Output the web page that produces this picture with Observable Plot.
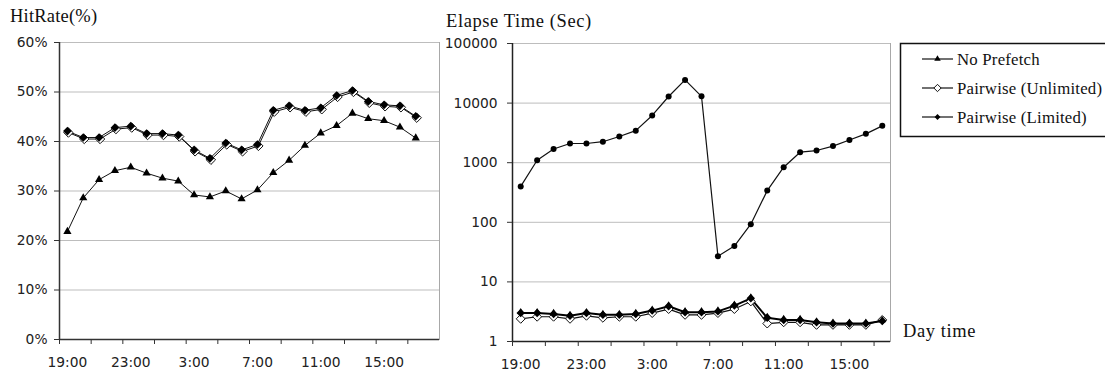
<!DOCTYPE html>
<html>
<head>
<meta charset="utf-8">
<script src="https://cdn.jsdelivr.net/npm/d3@7"></script>
<script src="https://cdn.jsdelivr.net/npm/@observablehq/plot@0.6"></script>
<style>
  html, body { margin: 0; padding: 0; background: #fff; }
  #wrap { position: relative; width: 1105px; height: 376px; overflow: hidden; background: #fff; }
  #wrap > svg, #wrap > figure { position: absolute; margin: 0; }
</style>
</head>
<body>
<div id="wrap"></div>
<script>
// ---- data ----
const categories = ["19:00","20:00","21:00","22:00","23:00","0:00","1:00","2:00","3:00","4:00","5:00","6:00",
                    "7:00","8:00","9:00","10:00","11:00","12:00","13:00","14:00","15:00","16:00","17:00"];
const xTickLabels = ["19:00","23:00","3:00","7:00","11:00","15:00"];
const seriesNames = ["No Prefetch","Pairwise (Unlimited)","Pairwise (Limited)"];

// Hit rate (%)
const hitNoPrefetch = [21.8,28.6,32.3,34.1,34.8,33.6,32.6,32.0,29.2,28.8,30.0,28.4,30.2,33.7,36.2,39.2,41.7,43.2,45.7,44.6,44.2,42.9,40.7];
const hitUnlimited  = [41.8,40.5,40.5,42.5,42.8,41.3,41.3,41.0,38.0,36.3,39.4,38.0,39.1,46.0,46.9,46.0,46.5,49.0,50.0,47.8,47.1,46.9,44.8];
const hitLimited    = [42.1,40.8,40.8,42.8,43.1,41.6,41.6,41.3,38.3,36.6,39.7,38.3,39.4,46.3,47.2,46.3,46.8,49.3,50.3,48.1,47.4,47.2,45.1];
const hitTicks = [0,10,20,30,40,50,60];

// Elapse time (sec)
const timeNoPrefetch = [3.0,3.0,2.9,2.7,3.0,2.8,2.8,2.9,3.3,3.9,3.1,3.1,3.2,4.0,5.3,2.5,2.3,2.3,2.1,2.0,2.0,2.0,2.2];
const timeUnlimited  = [2.4,2.6,2.6,2.4,2.7,2.5,2.6,2.6,3.0,3.5,2.8,2.8,3.0,3.5,4.7,2.0,2.1,2.1,1.9,1.9,1.9,1.9,2.3];
const timeLimited    = [400,1100,1700,2100,2100,2250,2750,3450,6200,12900,24500,13000,27,40,93,340,840,1500,1600,1900,2400,3050,4150];
const timeTicks = [1,10,100,1000,10000,100000];

// ---- build ----
const rows = (arr) => arr.map((v, i) => ({i, v}));
const labelIdx = xTickLabels.map(l => categories.indexOf(l));
const boundaryTicks = d3.range(-0.5, 22, 2);
const style = {fontFamily: "'DejaVu Sans', sans-serif", fontSize: "13.8px", color: "#222", background: "transparent", overflow: "visible"};
const wrap = document.getElementById("wrap");

function commonX() {
  return [
    Plot.axisX({ticks: labelIdx, tickSize: 0, tickPadding: 18, tickFormat: i => categories[i], label: null}),
    Plot.axisX({ticks: boundaryTicks, tickSize: 5, tickFormat: () => "", label: null, stroke: "#333"})
  ];
}

const left = Plot.plot({
  width: 445, height: 376,
  marginLeft: 59, marginRight: 6, marginTop: 42, marginBottom: 37,
  style,
  x: {type: "linear", domain: [-0.5, 23.5], label: null},
  y: {domain: [0, 60], label: null},
  marks: [
    Plot.frame({stroke: "#a8a8a8"}),
    Plot.gridY({ticks: hitTicks.slice(1), stroke: "#bdbdbd", strokeOpacity: 1}),
    Plot.ruleX([-0.5], {stroke: "#333", strokeWidth: 1.5}),
    Plot.ruleY([0], {stroke: "#333", strokeWidth: 1.5}),
    Plot.axisY({ticks: hitTicks, tickFormat: d => `${d}%`, tickSize: 5, tickPadding: 7, label: null, stroke: "#333"}),
    ...commonX(),
    Plot.line(rows(hitNoPrefetch), {x: "i", y: "v", stroke: "#111", strokeWidth: 1}),
    Plot.line(rows(hitUnlimited), {x: "i", y: "v", stroke: "#111", strokeWidth: 1, dx: 1}),
    Plot.line(rows(hitLimited), {x: "i", y: "v", stroke: "#111", strokeWidth: 1}),
    Plot.dot(rows(hitNoPrefetch), {x: "i", y: "v", symbol: "triangle2", r: 3.9, fill: "#000", stroke: "none"}),
    Plot.dot(rows(hitUnlimited), {x: "i", y: "v", symbol: "diamond2", r: 4.2, fill: "#fff", stroke: "#111", strokeWidth: 1, dx: 1}),
    Plot.dot(rows(hitLimited), {x: "i", y: "v", symbol: "diamond2", r: 3.9, fill: "#000", stroke: "none"})
  ]
});
left.style.left = "0px"; left.style.top = "0px";
wrap.appendChild(left);

const right = Plot.plot({
  width: 450, height: 376,
  marginLeft: 67, marginRight: 5, marginTop: 43, marginBottom: 35,
  style,
  x: {type: "linear", domain: [-0.5, 22.5], label: null},
  y: {type: "log", domain: [1, 100000], label: null},
  marks: [
    Plot.frame({stroke: "#a8a8a8"}),
    Plot.gridY({ticks: timeTicks.slice(1), stroke: "#bdbdbd", strokeOpacity: 1}),
    Plot.ruleX([-0.5], {stroke: "#222", strokeWidth: 1.5}),
    Plot.ruleY([1], {stroke: "#222", strokeWidth: 1.5}),
    Plot.axisY({ticks: timeTicks, tickFormat: d3.format("d"), tickSize: 5, tickPadding: 10, label: null, stroke: "#333"}),
    ...commonX(),
    Plot.line(rows(timeUnlimited), {x: "i", y: "v", stroke: "#111", strokeWidth: 1.2}),
    Plot.line(rows(timeNoPrefetch), {x: "i", y: "v", stroke: "#000", strokeWidth: 2}),
    Plot.line(rows(timeLimited), {x: "i", y: "v", stroke: "#111", strokeWidth: 1.2}),
    Plot.dot(rows(timeUnlimited), {x: "i", y: "v", symbol: "diamond2", r: 4, fill: "#fff", stroke: "#111", strokeWidth: 1}),
    Plot.dot(rows(timeNoPrefetch), {x: "i", y: "v", symbol: "diamond2", r: 3.8, fill: "#000", stroke: "none"}),
    Plot.dot(rows(timeNoPrefetch), {x: "i", y: "v", symbol: "triangle2", r: 3.4, fill: "#000", stroke: "none", dy: -1}),
    Plot.dot(rows(timeLimited), {x: "i", y: "v", r: 3, fill: "#000", stroke: "none"})
  ]
});
right.style.left = "445px"; right.style.top = "0px";
wrap.appendChild(right);

// ---- titles, legend, axis caption (overlay) ----
const serif = "'Liberation Serif', 'Times New Roman', serif";
const ov = d3.select(wrap).append("svg")
  .attr("width", 1105).attr("height", 376)
  .style("left", "0px").style("top", "0px").style("pointer-events", "none")
  .style("font-family", serif).style("fill", "#111");

ov.append("text").attr("x", 10).attr("y", 22).attr("font-size", 18.5).attr("letter-spacing", 0.2).text("HitRate(%)");
ov.append("text").attr("x", 446).attr("y", 27).attr("font-size", 18.5).attr("letter-spacing", 0.6).text("Elapse Time (Sec)");
ov.append("text").attr("x", 903).attr("y", 337).attr("font-size", 18.5).attr("letter-spacing", 0.6).text("Day time");

ov.append("rect").attr("x", 900.5).attr("y", 43.5).attr("width", 220).attr("height", 93)
  .attr("fill", "#fff").attr("stroke", "#111").attr("stroke-width", 1.5);

const legendSymbols = [
  {sym: d3.symbolTriangle2, size: 30, fill: "#000", stroke: "none"},
  {sym: d3.symbolDiamond2, size: 34, fill: "#fff", stroke: "#111"},
  {sym: d3.symbolDiamond2, size: 22, fill: "#000", stroke: "none"}
];
seriesNames.forEach((name, k) => {
  const y = 59 + k * 29;
  const g = ov.append("g");
  g.append("line").attr("x1", 922).attr("x2", 953).attr("y1", y).attr("y2", y).attr("stroke", "#111").attr("stroke-width", 1.2);
  g.append("path").attr("transform", `translate(937.5,${y})`)
    .attr("d", d3.symbol(legendSymbols[k].sym, legendSymbols[k].size)())
    .attr("fill", legendSymbols[k].fill).attr("stroke", legendSymbols[k].stroke);
  g.append("text").attr("x", 957).attr("y", y + 5.5).attr("font-size", 16.8).attr("letter-spacing", 0.2).text(name);
});
</script>
</body>
</html>
